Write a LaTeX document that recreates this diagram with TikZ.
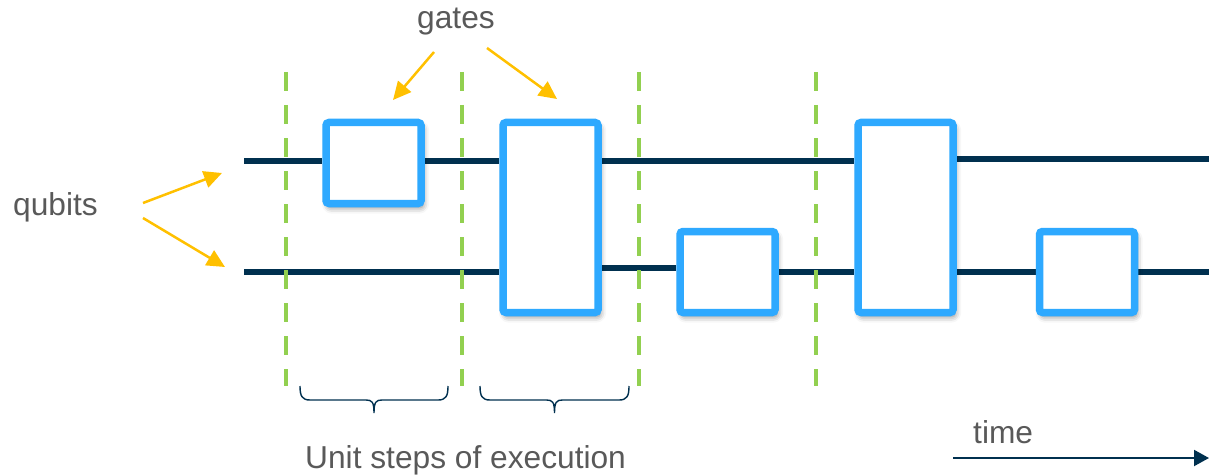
\documentclass[tikz,border=0pt]{standalone}
\usepackage{fontspec}
\setmainfont{Liberation Sans}
\usetikzlibrary{arrows.meta,shadows.blur,backgrounds}
\definecolor{gateblue}{HTML}{2EA9FF}
\definecolor{wire}{HTML}{00304F}
\definecolor{stepgreen}{HTML}{92D050}
\definecolor{pointer}{HTML}{FFC000}
\definecolor{labelgray}{HTML}{595959}

\begin{document}
\begin{tikzpicture}[x=1pt,y=-1pt,
  gate/.style={draw=gateblue, line width=7.5pt, fill=white, rounded corners=3pt,
    inner sep=0pt, minimum width=95pt,
    blur shadow={shadow xshift=2pt, shadow yshift=-4pt, shadow blur radius=6pt, shadow opacity=50}},
  qwire/.style={draw=wire, line width=6pt},
  stepline/.style={draw=stepgreen, line width=4.5pt, dash pattern=on 19pt off 14pt},
  pointerarrow/.style={draw=pointer, line width=2.5pt, -{Triangle[length=18pt,width=17pt]}},
  stepbrace/.style={draw=wire, line width=1.4pt},
  label/.style={text=labelgray, inner sep=0pt, anchor=base west, font=\fontsize{31.7}{38}\selectfont}]

  \useasboundingbox (0,0) rectangle (1209,476);

  % gates
  \node[gate, minimum height=81pt]  (g1) at (373.5,163)   {};
  \node[gate, minimum height=190pt] (g2) at (550.5,217.5) {};
  \node[gate, minimum height=81pt]  (g3) at (727.5,272)   {};
  \node[gate, minimum height=190pt] (g4) at (905.5,217.5) {};
  \node[gate, minimum height=81pt]  (g5) at (1087,272)    {};

  % wire end points
  \coordinate (q1s) at (244,161);
  \coordinate (q2s) at (244,272);
  \coordinate (q1e) at (1209,159);
  \coordinate (q2e) at (1209,272);

  % qubit wires, behind the gates
  \begin{pgfonlayer}{background}
    \draw[qwire] (q1s) -- (q1s -| g1.west);
    \draw[qwire] (g1.east |- q1s) -- (g2.west |- q1s);
    \draw[qwire] (g2.east |- q1s) -- (g4.west |- q1s);
    \draw[qwire] (g4.east |- q1e) -- (q1e);
    \draw[qwire] (q2s) -- (q2s -| g2.west);
    \draw[qwire] (g2.east |- 0,268) -- (g3.west |- 0,268);
    \draw[qwire] (g3.east |- q2s) -- (g4.west |- q2s);
    \draw[qwire] (g4.east |- q2s) -- (g5.west |- q2s);
    \draw[qwire] (g5.east |- q2e) -- (q2e);
  \end{pgfonlayer}

  % step boundaries
  \foreach \x in {286,462,639,816}
    \draw[stepline] (\x,72) -- (\x,386);

  % labels
  \node[label] (gates)  at (417,29)  {gates};
  \node[label] (qubits) at (13,215)  {qubits};
  \node[label] (steps)  at (305,468) {Unit steps of execution};
  \node[label] (time)   at (973,443) {time};

  % pointers
  \coordinate (ga1) at (434,52);  \coordinate (gb1) at (393,100);
  \coordinate (ga2) at (487,48);  \coordinate (gb2) at (557,99);
  \coordinate (qa1) at (143,203); \coordinate (qb1) at (222,173);
  \coordinate (qa2) at (143,218); \coordinate (qb2) at (225,267);
  \draw[pointerarrow] (ga1) -- (gb1);
  \draw[pointerarrow] (ga2) -- (gb2);
  \draw[pointerarrow] (qa1) -- (qb1);
  \draw[pointerarrow] (qa2) -- (qb2);

  % braces under the first two steps
  \foreach \l/\r in {300/448, 480/629}{
    \pgfmathsetmacro{\m}{(\l+\r)/2}
    \draw[stepbrace] (\l,386) .. controls (\l,396) and (\l+2,400) .. (\l+10,400)
      -- (\m-8,400) .. controls (\m-2,400) and (\m,402) .. (\m,413)
      .. controls (\m,402) and (\m+2,400) .. (\m+8,400)
      -- (\r-10,400) .. controls (\r-2,400) and (\r,396) .. (\r,386);
  }

  % time axis
  \coordinate (t0) at (953,458);
  \coordinate (t1) at (1209,458);
  \draw[draw=wire, line width=2pt, -{Triangle[length=15pt,width=16pt]}] (t0) -- (t1);
\end{tikzpicture}
\end{document}
